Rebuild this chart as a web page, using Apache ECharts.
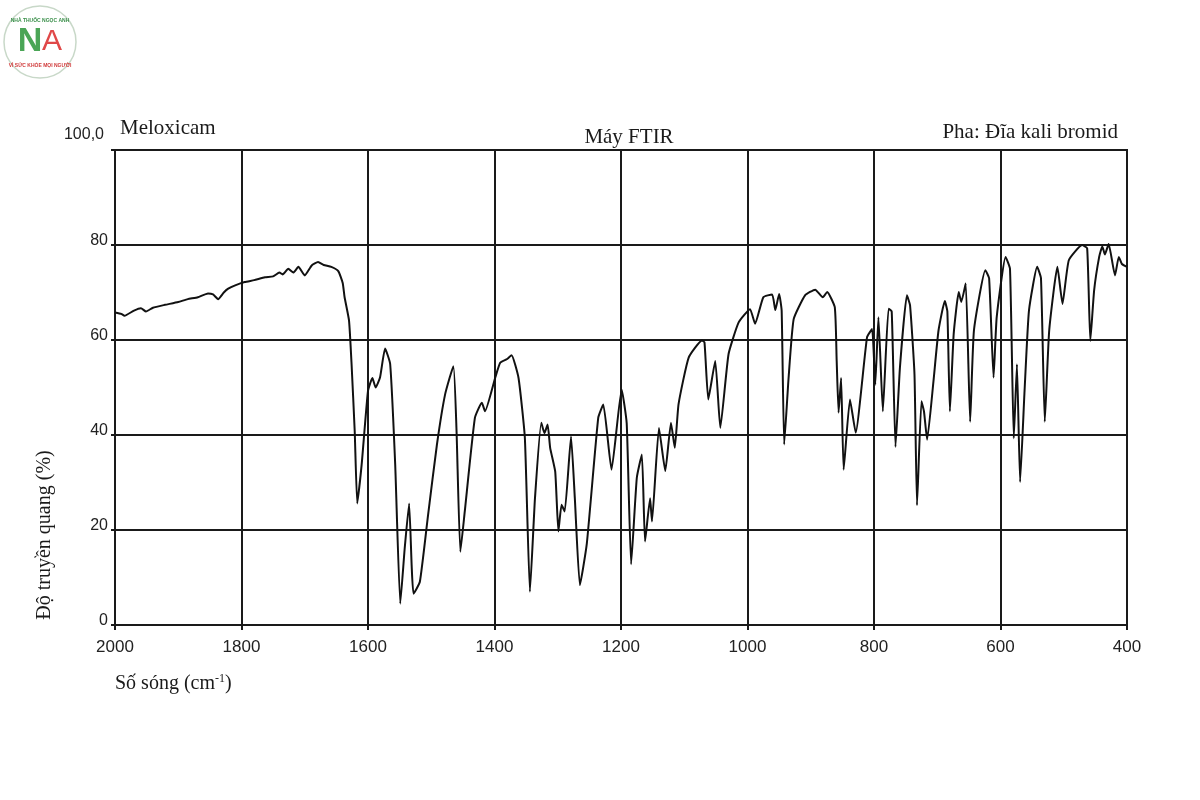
<!DOCTYPE html>
<html>
<head>
<meta charset="utf-8">
<title>Meloxicam FTIR</title>
<script src="https://cdn.jsdelivr.net/npm/echarts@6/dist/echarts.min.js"></script>
<style>
  html, body { margin: 0; padding: 0; background: #fff; }
  #chart { width: 1200px; height: 800px; }
</style>
</head>
<body>
<div id="chart"></div>
<script>
// wavenumber (cm-1) from left to right
var wavenumbers = [
  2000, 1990, 1985, 1970, 1959, 1951, 1940, 1921, 1900, 1885, 1869, 1853, 1845, 1837, 1828, 1821,
  1810, 1795, 1780, 1763, 1750, 1740, 1735, 1726, 1718, 1710, 1700, 1689, 1679, 1670, 1658, 1647,
  1640, 1637, 1630, 1626, 1621, 1617, 1610, 1600, 1593, 1588, 1581, 1573, 1565, 1557, 1549, 1542,
  1535, 1531, 1528, 1518, 1505, 1491, 1478, 1465, 1460, 1454, 1447, 1431, 1420, 1415, 1399, 1391,
  1380, 1373, 1362, 1352, 1344, 1336, 1326, 1321, 1316, 1312, 1304, 1299, 1294, 1289, 1279, 1273,
  1265, 1254, 1236, 1228, 1215, 1199, 1191, 1184, 1175, 1167, 1162, 1154, 1151, 1140, 1130, 1121,
  1115, 1109, 1093, 1072, 1068, 1062, 1051, 1043, 1030, 1014, 996, 988, 975, 961, 956, 950,
  946, 942, 935, 927, 909, 893, 881, 874, 862, 859, 856, 852, 848, 838, 829, 811,
  803, 798, 793, 786, 777, 772, 766, 759, 748, 743, 736, 732, 725, 721, 716, 706,
  698, 688, 684, 680, 674, 666, 662, 655, 648, 642, 624, 618, 611, 606, 592, 585,
  579, 574, 569, 562, 555, 542, 536, 530, 523, 510, 502, 492, 471, 463, 458, 452,
  444, 439, 435, 429, 419, 413, 408, 400
];
// transmittance (%)
var transmittance = [
  65.8, 65.5, 65.1, 66.2, 66.7, 66.0, 66.8, 67.4, 68.0, 68.6, 69.0, 69.8, 69.6, 68.6, 70.0, 70.8,
  71.5, 72.2, 72.6, 73.2, 73.4, 74.2, 73.8, 75.0, 74.2, 75.4, 73.6, 75.7, 76.4, 75.8, 75.4, 74.5,
  72.0, 69.0, 64.1, 55.0, 40.8, 25.6, 33.8, 49.3, 52.0, 50.0, 52.1, 58.2, 55.0, 33.8, 4.5, 16.1,
  25.6, 12.6, 6.6, 9.1, 23.2, 38.0, 48.6, 54.5, 40.8, 15.4, 23.9, 43.6, 46.8, 45.0, 52.0, 55.2,
  56.0, 56.8, 52.0, 39.4, 7.0, 26.7, 42.6, 40.4, 42.2, 37.3, 32.3, 19.7, 25.3, 23.9, 39.7, 26.7,
  8.4, 17.2, 43.6, 46.4, 32.7, 49.6, 42.5, 12.8, 31.0, 35.9, 17.6, 26.7, 21.8, 41.5, 32.4, 42.6,
  37.3, 46.5, 56.3, 59.9, 59.5, 47.5, 55.6, 41.5, 57.0, 63.7, 66.5, 63.4, 69.0, 69.6, 66.3, 69.7,
  66.2, 38.0, 52.1, 64.4, 69.4, 70.6, 69.0, 70.1, 66.9, 55.6, 44.7, 52.0, 32.7, 47.5, 40.5, 60.6,
  62.3, 50.6, 64.8, 45.0, 66.6, 66.0, 37.5, 54.2, 69.4, 67.3, 52.8, 25.2, 47.1, 45.0, 39.0, 51.3,
  62.0, 68.2, 66.0, 45.0, 61.3, 70.1, 68.0, 71.9, 42.8, 62.0, 74.7, 73.0, 52.1, 64.8, 77.5, 75.0,
  39.3, 54.9, 30.1, 49.2, 66.2, 75.4, 73.0, 42.8, 62.0, 75.4, 67.6, 76.8, 80.0, 79.3, 59.8, 70.4,
  77.5, 79.7, 78.0, 80.2, 73.6, 77.5, 76.0, 75.4
];

var xTicks = [2000, 1800, 1600, 1400, 1200, 1000, 800, 600, 400];
var yTicks = [0, 20, 40, 60, 80, 100];

var titleLeft = 'Meloxicam';
var titleMid = 'Máy FTIR';
var titleRight = 'Pha: Đĩa kali bromid';
var yName = 'Độ truyền quang (%)';

var points = wavenumbers.map(function (w, i) { return [w, transmittance[i]]; });

var chart = echarts.init(document.getElementById('chart'));
var serif = '"Liberation Serif", "DejaVu Serif", serif';
var sans = '"Liberation Sans", Arial, sans-serif';

var option = {
  backgroundColor: '#ffffff',
  animation: false,
  grid: {
    left: 115, right: 73, top: 150, bottom: 175,
    show: true, borderColor: '#1a1a1a', borderWidth: 2
  },
  xAxis: {
    type: 'value',
    inverse: true,
    min: xTicks[xTicks.length - 1],
    max: xTicks[0],
    interval: 200,
    axisLine: { show: true, lineStyle: { color: '#1a1a1a', width: 2 } },
    axisTick: { show: true, length: 5, lineStyle: { color: '#1a1a1a', width: 2 } },
    axisLabel: {
      color: '#222', fontFamily: sans, fontSize: 17, margin: 14,
      formatter: function (v) { return String(v); }
    },
    splitLine: { show: true, lineStyle: { color: '#1a1a1a', width: 2 } }
  },
  yAxis: {
    type: 'value',
    min: yTicks[0],
    max: yTicks[yTicks.length - 1],
    interval: 20,
    axisLine: { show: true, lineStyle: { color: '#1a1a1a', width: 2 } },
    axisTick: { show: true, length: 4, lineStyle: { color: '#1a1a1a', width: 2 } },
    axisLabel: {
      color: '#222', fontFamily: sans, fontSize: 16, margin: 7,
      formatter: function (v) {
        return v === 100 ? '{t|100,0}' : '{n|' + v + '}';
      },
      rich: {
        t: { fontFamily: sans, fontSize: 16, color: '#222', padding: [0, 4, 30, 0] },
        n: { fontFamily: sans, fontSize: 16, color: '#222', padding: [0, 0, 8, 0] }
      }
    },
    splitLine: { show: true, lineStyle: { color: '#1a1a1a', width: 2 } }
  },
  graphic: [
    { type: 'text', left: 120, top: 118, style: { text: titleLeft, font: '21px ' + serif, fill: '#1a1a1a' } },
    { type: 'text', x: 629, y: 127, style: { text: titleMid, font: '21px ' + serif, fill: '#1a1a1a', textAlign: 'center' } },
    { type: 'text', x: 1118, y: 122, style: { text: titleRight, font: '21px ' + serif, fill: '#1a1a1a', textAlign: 'right' } },
    {
      type: 'text', x: 45, y: 535, rotation: Math.PI / 2,
      style: { text: yName, font: '20px ' + serif, fill: '#1a1a1a', textAlign: 'center', textVerticalAlign: 'middle' }
    },
    {
      type: 'text', x: 115, y: 673,
      style: {
        text: '{a|Số sóng (cm}{s|-1}{a|)}',
        rich: {
          a: { font: '20px ' + serif, fill: '#1a1a1a' },
          s: { font: '12px ' + serif, fill: '#1a1a1a', padding: [0, 0, 10, 0] }
        }
      }
    },
    // shop logo in the corner
    { type: 'circle', shape: { cx: 40, cy: 42, r: 36 }, style: { fill: '#fff', stroke: '#c8d8c8', lineWidth: 1.5 } },
    { type: 'text', x: 40, y: 18, style: { text: 'NHÀ THUỐC NGỌC ANH', font: 'bold 5px ' + sans, fill: '#3a8f4a', textAlign: 'center' } },
    { type: 'text', x: 30, y: 42, style: { text: 'N', font: 'bold 34px ' + sans, fill: '#4aa556', textAlign: 'center', textVerticalAlign: 'middle' } },
    { type: 'text', x: 52, y: 42, style: { text: 'A', font: '30px ' + sans, fill: '#e04848', textAlign: 'center', textVerticalAlign: 'middle' } },
    { type: 'text', x: 40, y: 63, style: { text: 'VÌ SỨC KHỎE MỌI NGƯỜI', font: 'bold 5px ' + sans, fill: '#d03a3a', textAlign: 'center' } }
  ],
  series: [{
    type: 'line',
    data: points,
    showSymbol: false,
    smooth: 0.15,
    lineStyle: { color: '#111', width: 2 }
  }]
};

chart.setOption(option);
</script>
</body>
</html>
